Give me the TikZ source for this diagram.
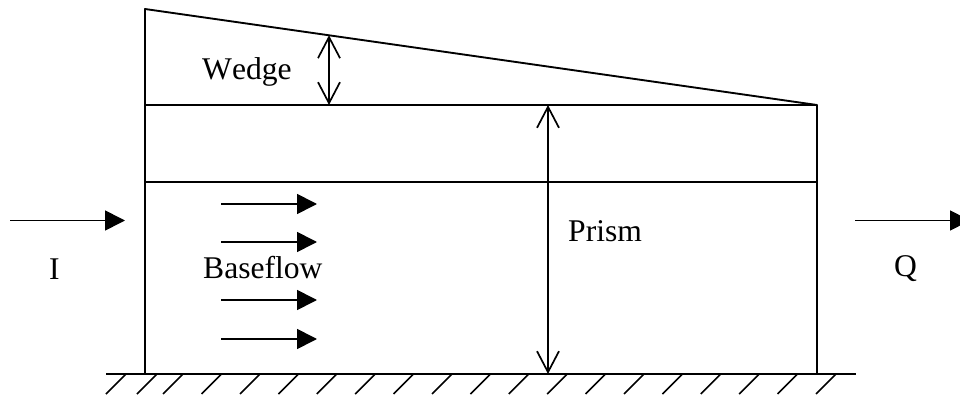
\documentclass[tikz,border=0pt]{standalone}
\usepackage{fontspec}
\setmainfont[Kerning=Off]{Liberation Serif}
\usetikzlibrary{arrows.meta}
\tikzset{
  wall/.style={line width=1.9pt,line cap=round,line join=round,black},
  thin line/.style={line width=1.7pt,black},
  flow/.style={line width=1.7pt,black,-{Triangle[length=20pt,width=20pt]}},
  dim/.style={line width=1.7pt,black,{Straight Barb[length=21pt,width=22pt,line width=1.7pt]}-{Straight Barb[length=21pt,width=22pt,line width=1.7pt]}},
  lab/.style={anchor=base west,inner sep=0pt,font=\fontsize{31.6pt}{36pt}\selectfont},
  hatch/.style={line width=1.6pt,black}
}
\begin{document}
\begin{tikzpicture}[x=1pt,y=-1pt]
\useasboundingbox (0,0) rectangle (960,395);
\clip (0,0) rectangle (960,395);
\coordinate (wt) at (145,9);
\coordinate (wb) at (145,374);
\coordinate (el) at (145,105);
\coordinate (er) at (817,105);
\coordinate (bl) at (145,182);
\coordinate (br) at (817,182);
\coordinate (rb) at (817,374);
\coordinate (gl) at (106,374);
\coordinate (gr) at (856,374);
\coordinate (wa) at (329,35.3);
\coordinate (wc) at (329,105);
\coordinate (pa) at (548,105);
\coordinate (pb) at (548,374);
\coordinate (ia) at (10,220.5);
\coordinate (ib) at (125,220.5);
\coordinate (qa) at (855,220.5);
\coordinate (qb) at (970,220.5);
\foreach \n/\y in {1/204,2/242,3/300,4/339}{
  \coordinate (fa\n) at (221,\y);
  \coordinate (fb\n) at (317,\y);
  \draw[flow] (fa\n) -- (fb\n);
}
\draw[wall] (wb) -- (wt) -- (er) -- (rb);
\draw[thin line] (el) -- (er);
\draw[thin line] (bl) -- (br);
\draw[thin line] (gl) -- (gr);
\draw[dim] (wa) -- (wc);
\draw[dim] (pa) -- (pb);
\draw[flow] (ia) -- (ib);
\draw[flow] (qa) -- (qb);
\foreach \x in {126,157,183,221.6,260,298.4,336.8,375.2,413.6,452,490.4,528.8,567.2,605.6,644,682.4,720.8,759.2,797.6,836}{
  \draw[hatch] (\x,374) -- ++(-20,20);
}
\node[lab] (wedge) at (202,80) {Wedge};
\node[lab] (baseflow) at (203,278) {Baseflow};
\node[lab] (prism) at (568,241) {Prism};
\node[lab] (inflow) at (49,279) {I};
\node[lab] (outflow) at (894,276) {Q};
\end{tikzpicture}
\end{document}
